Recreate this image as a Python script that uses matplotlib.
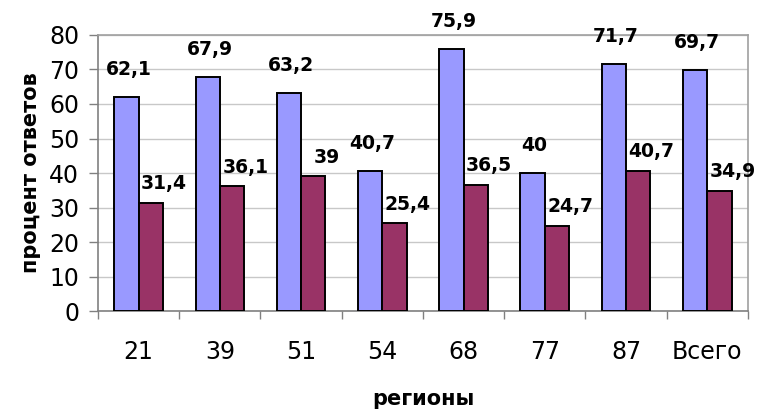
import numpy as np
import matplotlib
matplotlib.use('Agg')
import matplotlib.pyplot as plt

# Data
regions = ['21', '39', '51', '54', '68', '77', '87', 'Всего']
series_a = [62.1, 67.9, 63.2, 40.7, 75.9, 40.0, 71.7, 69.7]
series_b = [31.4, 36.1, 39.0, 25.4, 36.5, 24.7, 40.7, 34.9]

def fmt(v):
    s = f'{v:.1f}'.replace('.', ',')
    return s[:-2] if s.endswith(',0') else s

plt.rcParams['font.family'] = ['DejaVu Sans']

fig = plt.figure(figsize=(7.6, 4.11), dpi=100)
ax = fig.add_axes([0.129, 0.243, 0.855, 0.672])

x = np.arange(len(regions))
w = 0.3
bars_a = ax.bar(x - w / 2, series_a, w, color='#9999FF', edgecolor='black', linewidth=1.4, zorder=3)
bars_b = ax.bar(x + w / 2, series_b, w, color='#993366', edgecolor='black', linewidth=1.4, zorder=3)

# value labels
for b, v in zip(bars_a, series_a):
    ax.annotate(fmt(v), (b.get_x() + b.get_width() / 2, v), xytext=(1.5, 13),
                textcoords='offset points', ha='center', va='bottom',
                fontsize=13.5, fontweight='bold', clip_on=False)
for b, v in zip(bars_b, series_b):
    ax.annotate(fmt(v), (b.get_x() + b.get_width() / 2, v), xytext=(9.5, 7),
                textcoords='offset points', ha='center', va='bottom',
                fontsize=13.5, fontweight='bold', clip_on=False)

ax.set_xlim(-0.5, len(regions) - 0.5)
ax.set_ylim(0, 80)
ax.set_yticks(np.arange(0, 81, 10))
ax.yaxis.grid(True, color='#c8c8c8', linewidth=1.0, zorder=0)

ax.set_xticks(x)
ax.set_xticklabels(regions)
ax.set_xticks(np.arange(-0.5, len(regions), 1), minor=True)
ax.tick_params(axis='x', which='major', length=0, pad=21, labelsize=17)
ax.tick_params(axis='x', which='minor', length=6, width=1, color='#808080', direction='out')
ax.tick_params(axis='y', length=6.5, width=1, color='#808080', pad=7, labelsize=17)

for side in ['left', 'bottom']:
    ax.spines[side].set_color('#808080')
    ax.spines[side].set_linewidth(1.2)
for side in ['top', 'right']:
    ax.spines[side].set_color('#a0a0a0')
    ax.spines[side].set_linewidth(1.2)

ax.set_ylabel('процент ответов', fontsize=15, fontweight='bold', labelpad=6)
ax.set_xlabel('регионы', fontsize=15, fontweight='bold', labelpad=18)

fig.savefig('out.png', dpi=100)
